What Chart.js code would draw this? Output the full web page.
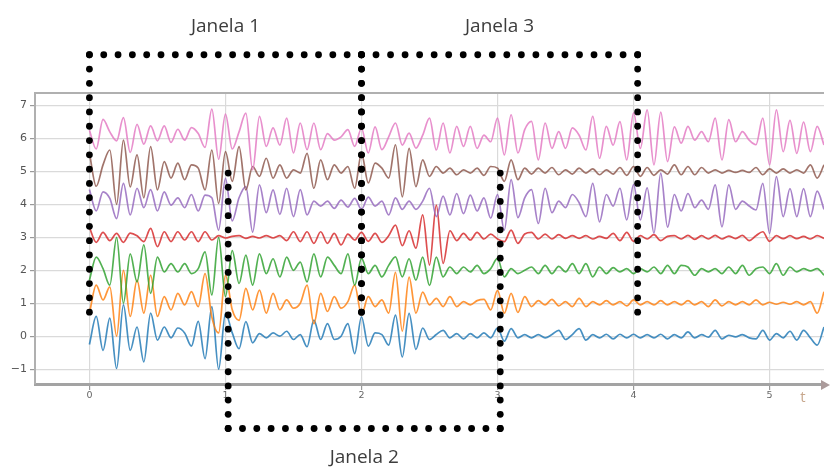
<!DOCTYPE html>
<html>
<head>
<meta charset="utf-8">
<script src="https://cdn.jsdelivr.net/npm/chart.js@4.4.1/dist/chart.umd.min.js"></script>
<style>
  html, body { margin: 0; padding: 0; background: #fff; }
  canvas { display: block; }
</style>
</head>
<body>
<canvas id="chart" width="830" height="469"></canvas>
<script>
// Sampling instants (one sample every 0.05 time units, 0 … 5.4)
const t = Array.from({ length: 109 }, (_, i) => Math.round(i * 5) / 100);

// Vertical offset of each channel in the stacked plot
const offsets = [0, 1, 2, 3, 4, 5, 6];

// Channel signals (deviation around each channel's offset)
const ch0 = [
  -0.25,0.6,-0.43,0.55,-0.98,0.95,-0.43,0.28,-0.78,0.7,-0.12,0.28,-0.05,0.25,0.1,-0.3,0.45,-0.68,0.9,-1.0,0.69,0.1,
  -0.38,0.44,-0.2,0.08,-0.05,0.1,0.0,0.15,-0.1,0.05,-0.32,0.49,-0.1,0.38,-0.1,0.0,0.38,-0.53,0.59,-0.3,0.1,
  0.05,-0.27,0.64,-0.63,0.69,-0.4,0.25,-0.1,0.05,0.18,-0.05,0.08,-0.08,0.08,-0.05,0.1,-0.05,0.25,-0.15,0.23,-0.05,0.05,
  -0.05,0.05,-0.05,0.05,0.18,-0.1,0.05,0.23,-0.12,0.05,-0.05,0.06,-0.08,0.06,-0.05,0.06,-0.05,0.05,-0.05,0.06,-0.08,
  0.05,-0.05,0.13,-0.05,0.05,-0.03,0.18,-0.08,0.03,-0.02,0.05,-0.05,-0.08,0.18,-0.12,0.08,-0.05,0.15,-0.12,0.18,-0.05,-0.27,0.28
];
const ch1 = [
  -0.3,0.55,0.1,0.5,-1.0,1.0,-0.4,0.7,-0.3,0.85,-0.4,0.2,-0.2,0.3,-0.05,0.35,-0.1,0.9,-0.42,-0.9,0.85,-0.2,
  -0.52,0.45,-0.2,0.4,-0.3,0.3,-0.2,0.1,-0.15,0.0,0.55,-0.62,0.3,-0.25,0.2,-0.15,0.05,0.55,-0.35,0.2,-0.1,
  0.1,-0.3,0.94,-0.85,0.79,-0.3,0.34,-0.05,0.15,-0.1,0.2,-0.1,0.05,-0.05,0.08,0.12,-0.2,0.39,-0.3,0.3,-0.28,0.2,
  -0.1,0.08,-0.05,0.12,-0.08,0.05,-0.1,0.15,-0.1,0.05,-0.05,0.08,-0.05,0.05,-0.08,0.1,-0.05,0.05,-0.05,0.08,-0.05,
  0.05,-0.05,0.08,-0.05,0.05,-0.1,0.1,-0.08,0.05,-0.05,0.05,-0.05,0.1,-0.05,0.03,-0.03,0.03,-0.03,0.05,-0.05,0.05,-0.3,0.35
];
const ch2 = [
  -0.3,0.4,0.05,-0.45,1.0,-1.0,0.5,-0.35,0.77,-0.7,0.4,-0.05,0.2,-0.05,0.2,-0.1,0.05,0.56,-0.75,1.0,-0.8,0.6,
  -0.4,0.46,-0.45,0.5,-0.1,0.35,-0.2,0.4,0.0,0.25,-0.35,0.5,-0.2,0.4,0.15,-0.1,0.5,-0.45,0.36,-0.1,0.15,
  -0.2,0.15,0.41,-0.2,0.35,-0.3,0.4,-0.46,0.4,-0.2,0.1,-0.1,0.1,-0.05,0.15,-0.1,0.05,0.36,-0.2,0.05,-0.1,0.0,
  0.1,-0.1,0.15,-0.1,0.12,-0.05,0.2,-0.1,0.2,-0.2,0.1,-0.1,0.08,-0.05,0.05,-0.1,0.05,-0.05,0.1,-0.1,0.15,
  -0.1,0.15,0.1,-0.15,0.05,-0.05,0.05,-0.1,0.1,-0.1,0.15,-0.15,0.05,0.1,-0.1,0.2,-0.15,0.1,-0.05,0.05,-0.02,0.05,-0.15
];
const ch3 = [
  0.3,-0.15,0.15,-0.1,0.12,-0.15,0.13,0.05,-0.13,0.27,-0.28,0.17,-0.13,0.17,-0.08,0.17,-0.13,0.17,-0.08,0.05,-0.02,0.03,
  0.05,-0.03,0.03,-0.02,0.05,-0.02,0.05,-0.1,0.17,-0.13,0.17,-0.18,0.17,-0.18,0.12,-0.23,0.1,-0.08,0.15,-0.12,0.12,
  -0.15,0.05,0.37,-0.25,0.2,-0.33,0.68,-0.84,0.98,-0.79,0.2,-0.1,0.12,-0.08,0.15,-0.05,0.1,-0.05,-0.13,0.22,-0.18,0.1,
  0.15,-0.05,0.1,-0.05,0.08,-0.03,0.05,-0.03,0.05,-0.05,0.03,-0.03,0.12,-0.1,0.15,-0.12,0.05,-0.05,0.08,-0.1,0.03,
  0.05,-0.05,0.06,-0.06,0.05,-0.05,0.06,-0.05,0.04,-0.04,0.06,-0.1,0.05,0.17,-0.12,0.05,-0.04,0.05,-0.04,0.03,-0.05,0.05,-0.03
];
const ch4 = [
  0.45,-0.2,0.38,0.18,-0.43,0.64,-0.32,0.49,-0.1,0.45,-0.2,0.38,-0.02,0.2,-0.1,0.3,-0.2,0.28,0.2,-0.78,0.79,-0.5,
  0.2,0.54,-0.84,0.59,-0.25,0.44,-0.3,0.49,-0.37,0.45,-0.32,0.1,-0.05,0.1,-0.12,0.13,-0.08,0.18,-0.15,0.22,-0.05,
  0.1,-0.32,0.2,-0.15,0.1,-0.15,0.1,0.49,-0.37,0.25,-0.32,0.33,-0.28,0.28,-0.2,0.2,-0.42,0.3,-0.78,0.75,-0.4,0.2,
  0.45,-0.58,0.49,-0.25,0.1,-0.1,0.3,0.05,-0.37,0.64,-0.53,0.3,-0.05,0.49,-0.47,0.6,-0.47,0.5,-0.87,0.95,-0.69,
  0.3,-0.2,0.33,-0.1,0.13,-0.15,0.59,-0.68,0.59,-0.15,0.1,-0.05,-0.17,0.64,-0.88,0.84,-0.37,0.48,-0.37,0.48,-0.37,0.4,-0.15
];
const ch5 = [
  0.56,-0.45,0.2,0.65,-1.0,0.95,-0.47,0.5,-0.8,0.75,-0.56,0.3,-0.2,0.25,-0.25,0.2,0.1,-0.56,0.65,-0.97,0.6,-0.3,
  0.75,-0.56,0.15,-0.15,0.4,-0.2,0.2,-0.2,0.05,-0.05,0.55,-0.51,0.35,-0.25,0.2,-0.05,0.15,-0.51,0.55,-0.35,0.25,
  0.1,-0.2,0.81,-0.77,0.7,-0.46,0.35,-0.15,0.15,-0.05,0.1,-0.1,0.05,-0.05,0.1,-0.12,0.15,0.1,-0.3,0.35,-0.25,0.1,
  -0.08,0.1,-0.05,0.12,-0.1,0.05,-0.08,0.1,-0.05,0.08,-0.1,0.05,-0.08,0.12,-0.12,0.15,-0.15,0.12,-0.12,0.05,-0.08,
  0.2,-0.1,0.15,-0.1,0.12,-0.05,0.05,-0.05,0.03,-0.03,0.03,-0.03,0.12,-0.1,0.08,-0.05,0.08,-0.05,0.05,-0.05,0.2,-0.2,0.2
];
const ch6 = [
  0.25,-0.32,0.58,0.2,-0.07,0.63,-0.42,0.43,-0.17,0.38,-0.07,0.38,-0.12,0.28,-0.05,0.33,0.15,-0.27,0.89,-0.63,0.74,-0.32,
  0.2,0.77,-0.95,0.67,-0.24,0.32,-0.2,0.62,-0.44,0.47,-0.34,0.47,-0.34,0.15,-0.05,0.05,0.27,-0.24,0.31,-0.44,0.35,
  -0.34,0.05,0.47,-0.2,0.16,-0.29,0.1,0.62,-0.35,0.47,-0.44,0.37,-0.24,0.37,-0.3,0.1,-0.1,0.62,-0.5,0.72,-0.44,0.27,
  0.52,-0.65,0.47,-0.3,0.21,-0.3,0.32,0.1,-0.35,0.67,-0.6,0.37,-0.2,
  0.51,-0.65,0.78,-0.3,0.87,-0.8,0.8,-0.7,0.35,-0.14,0.37,-0.05,0.21,-0.1,0.62,-0.65,0.57,-0.1,0.21,-0.05,-0.19,0.62,-0.8,0.87,-0.4,0.55,-0.45,0.5,-0.4,0.37,-0.2
];

const channels = [ch0, ch1, ch2, ch3, ch4, ch5, ch6];
const colors = ['#1f77b4', '#ff7f0e', '#2ca02c', '#d62728', '#9467bd', '#8c564b', '#e377c2'];

// Axis ticks
const xTicks = [0, 1, 2, 3, 4, 5];
const yTicks = [-1, 0, 1, 2, 3, 4, 5, 6, 7];

// Analysis windows: time span, vertical reach and the side that is closed/labelled
const windowNames = ['Janela 1', 'Janela 2', 'Janela 3'];
const windowStart = [0, 1.02, 2];
const windowEnd = [2, 3.02, 4.03];
const windowLow = [0.73, -2.8, 0.73];
const windowHigh = [8.54, 4.95, 8.54];
const windowLabelSide = ['top', 'bottom', 'top'];

function withAlpha(hex, a) {
  const n = parseInt(hex.slice(1), 16);
  return `rgba(${(n >> 16) & 255},${(n >> 8) & 255},${n & 255},${a})`;
}

const datasets = channels.map((sig, i) => ({
  label: 'canal ' + i,
  data: sig.map((v, k) => ({ x: t[k], y: offsets[i] + v })),
  borderColor: withAlpha(colors[i], 0.82),
  borderWidth: 1.7,
  pointRadius: 0,
  cubicInterpolationMode: 'monotone',
  fill: false,
  order: channels.length - 1 - i
}));

function dottedEdge(ctx, x0, y0, x1, y1) {
  const len = Math.hypot(x1 - x0, y1 - y0);
  const n = Math.max(1, Math.round(len / 14.3));
  for (let i = 0; i <= n; i++) {
    const f = i / n;
    ctx.beginPath();
    ctx.arc(x0 + (x1 - x0) * f, y0 + (y1 - y0) * f, 3.4, 0, Math.PI * 2);
    ctx.fill();
  }
}

// Each window is an open bracket: closed on the labelled side, open on the other
const windowsPlugin = {
  id: 'windows',
  afterDatasetsDraw(chart) {
    const { ctx, scales: { x, y } } = chart;
    ctx.save();
    windowNames.forEach((name, i) => {
      const L = x.getPixelForValue(windowStart[i]);
      const R = x.getPixelForValue(windowEnd[i]);
      const T = y.getPixelForValue(windowHigh[i]);
      const B = y.getPixelForValue(windowLow[i]);
      const top = windowLabelSide[i] === 'top';
      const edgeY = top ? T : B;
      const openY = top ? B : T;
      ctx.fillStyle = '#000';
      dottedEdge(ctx, L, edgeY, R, edgeY);
      dottedEdge(ctx, L, edgeY, L, openY);
      dottedEdge(ctx, R, edgeY, R, openY);
      ctx.fillStyle = '#3d3d3d';
      ctx.font = '19px "Open Sans", "Noto Sans", sans-serif';
      ctx.textAlign = 'center';
      ctx.textBaseline = 'middle';
      const cy = top ? T - 28 : B + 29;
      ctx.fillText(name, (L + R) / 2, cy);
    });
    ctx.restore();
  }
};

const framePlugin = {
  id: 'frame',
  afterDraw(chart) {
    const { ctx, chartArea: a } = chart;
    ctx.save();
    // top spine
    ctx.strokeStyle = '#b0b0b0';
    ctx.lineWidth = 2;
    ctx.beginPath();
    ctx.moveTo(a.left, a.top);
    ctx.lineTo(a.right, a.top);
    ctx.stroke();
    // time axis arrow head
    const yb = a.bottom + 1;
    ctx.fillStyle = '#ab9b9b';
    ctx.beginPath();
    ctx.moveTo(a.right - 3, yb - 5);
    ctx.lineTo(830, yb);
    ctx.lineTo(a.right - 3, yb + 5);
    ctx.closePath();
    ctx.fill();
    // axis name
    ctx.fillStyle = '#c8a88e';
    ctx.font = '15px "Open Sans", sans-serif';
    ctx.textAlign = 'center';
    ctx.textBaseline = 'middle';
    ctx.fillText('t', 803, a.bottom + 14);
    ctx.restore();
  }
};

new Chart(document.getElementById('chart'), {
  type: 'line',
  data: { datasets },
  options: {
    responsive: false,
    animation: false,
    events: [],
    layout: { padding: { top: 93, left: 0, right: 6, bottom: 55 } },
    plugins: { legend: { display: false }, tooltip: { enabled: false } },
    scales: {
      x: {
        type: 'linear',
        min: -0.4,
        max: 5.4,
        afterBuildTicks: s => { s.ticks = xTicks.map(v => ({ value: v })); },
        afterFit: s => { s.height = 30; },
        grid: { color: '#dadada', lineWidth: 1.2, tickLength: 6, tickColor: '#9a9a9a' },
        border: { display: true, color: '#a3a3a3', width: 3 },
        ticks: {
          color: '#666',
          padding: 0,
          font: { family: 'DejaVu Sans', size: 9.5 },
          callback: v => String(v)
        }
      },
      y: {
        type: 'linear',
        min: -1.45,
        max: 7.38,
        afterBuildTicks: s => { s.ticks = yTicks.map(v => ({ value: v })); },
        afterFit: s => { s.width = 35; },
        grid: { color: '#dadada', lineWidth: 1.2, tickLength: 5, tickColor: '#9a9a9a' },
        border: { display: true, color: '#b0b0b0', width: 2 },
        ticks: {
          color: '#555',
          padding: 3,
          font: { family: 'DejaVu Sans', size: 11 },
          callback: v => (v < 0 ? '\u2212' + Math.abs(v) : String(v))
        }
      }
    }
  },
  plugins: [windowsPlugin, framePlugin]
});
</script>
</body>
</html>
